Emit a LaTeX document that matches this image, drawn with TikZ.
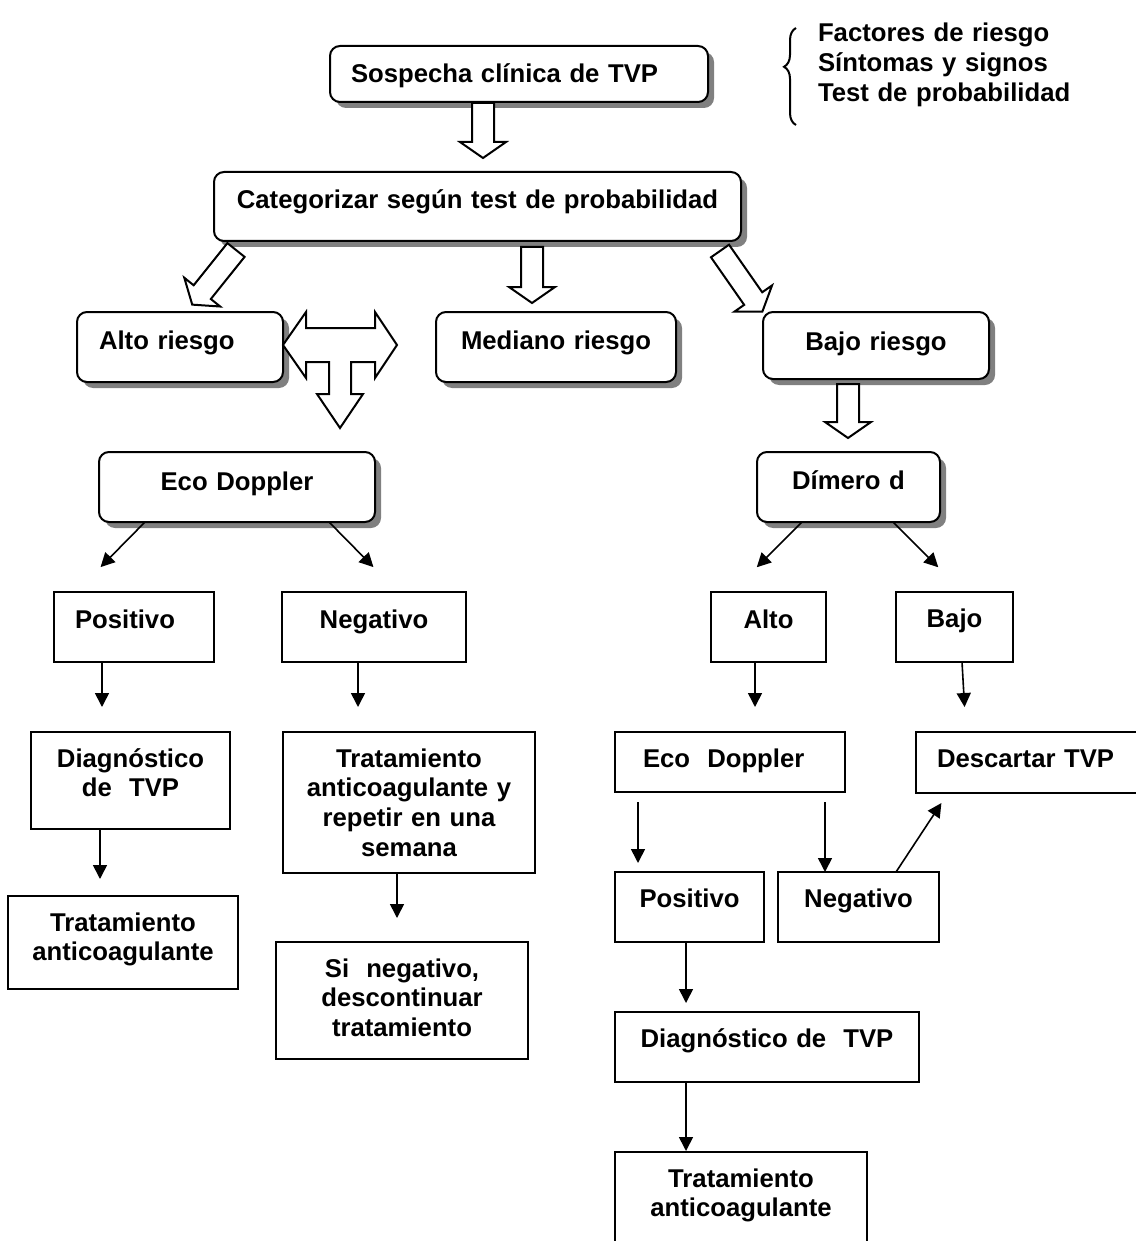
\documentclass[tikz,border=0pt]{standalone}
\usepackage{fontspec}
\setmainfont{Liberation Sans}
\usetikzlibrary{arrows.meta,shadows,decorations.pathreplacing}
\newcommand{\boxfont}{\fontsize{25.7}{29.7}\selectfont\bfseries}
% hollow block arrow: tail point, angle, length
\newcommand{\blockarrow}[3]{%
  \draw[hollow,shift={#1},rotate=#2] (0,-11) -- ({#3-16},-11) -- ({#3-16},-23)
    -- (#3,0) -- ({#3-16},23) -- ({#3-16},11) -- (0,11) -- cycle;}

\begin{document}
\begin{tikzpicture}[x=1pt,y=-1pt,
 box/.style={draw,line width=2pt,anchor=north west,align=center,fill=white,
  inner xsep=0pt,inner ysep=0pt,outer sep=0pt,font=\boxfont},
 rbox/.style={box,rounded corners=10pt,
  drop shadow={shadow xshift=6pt,shadow yshift=-6pt,fill=black!50,opacity=1}},
 hollow/.style={draw,fill=white,line width=2pt,line join=miter},
 arr/.style={-{Triangle[length=14pt,width=14pt]},line width=1.6pt}]
\useasboundingbox (0,0) rectangle (1135,1241);

% top
\node[rbox,align=left,inner xsep=21pt,text width=336pt,text height=37pt,text depth=19pt]
 (sospecha) at (330,46) {Sospecha clínica de TVP};
\node[box,draw=none,fill=none,align=left,text width=300pt,text height=18pt,text depth=2pt]
 (factores) at (818,24) {Factores de riesgo\\Síntomas y signos\\Test de probabilidad};
\draw[line width=2pt,decorate,decoration={brace,amplitude=12pt,aspect=0.6}]
 (796,125) -- (796,28);
\node[rbox,text width=527pt,text height=37pt,text depth=32pt]
 (categ) at (214,172) {Categorizar según test de probabilidad};

% risk groups
\node[rbox,align=left,inner xsep=22pt,text width=162pt,text height=37pt,text depth=33pt]
 (altor) at (77,312) {Alto riesgo};
\node[rbox,text width=240pt,text height=37pt,text depth=33pt]
 (medr) at (436,312) {Mediano riesgo};
\node[rbox,text width=226pt,text height=38pt,text depth=29pt]
 (bajor) at (763,312) {Bajo riesgo};
\node[rbox,text width=276pt,text height=38pt,text depth=32pt]
 (ecoA) at (99,452) {Eco Doppler};
\node[rbox,text width=183pt,text height=37pt,text depth=33pt]
 (dimero) at (757,452) {Dímero d};

% left branch
\node[box,align=left,inner xsep=21pt,text width=118pt,text height=36pt,text depth=34pt]
 (posA) at (54,592) {Positivo};
\node[box,text width=184pt,text height=36pt,text depth=34pt]
 (negA) at (282,592) {Negativo};
\node[box,text width=199pt,text height=35pt,text depth=62pt]
 (diagA) at (31,732) {Diagnóstico\\de~~TVP};
\node[box,text width=252pt,text height=35pt,text depth=106pt]
 (tratB) at (283,732) {Tratamiento\\anticoagulante y\\repetir en una\\semana};
\node[box,text width=230pt,text height=35pt,text depth=58pt]
 (tratA) at (8,896) {Tratamiento\\anticoagulante};
\node[box,text width=252pt,text height=35pt,text depth=82pt]
 (siNeg) at (276,942) {Si~~negativo,\\descontinuar\\tratamiento};

% right branch
\node[box,text width=115pt,text height=36pt,text depth=34pt]
 (alto) at (711,592) {Alto};
\node[box,text width=117pt,text height=35pt,text depth=35pt]
 (bajo) at (896,592) {Bajo};
\node[box,align=left,inner xsep=28pt,text width=174pt,text height=35pt,text depth=25pt]
 (ecoB) at (615,732) {Eco~~Doppler};
\node[box,align=left,inner xsep=21pt,text width=198pt,text height=35pt,text depth=26pt]
 (descartar) at (916,732) {Descartar TVP};
\node[box,text width=149pt,text height=35pt,text depth=35pt]
 (posB) at (615,872) {Positivo};
\node[box,text width=161pt,text height=35pt,text depth=35pt]
 (negB) at (778,872) {Negativo};
\node[box,text width=304pt,text height=35pt,text depth=35pt]
 (diagB) at (615,1012) {Diagnóstico de~~TVP};
\node[box,text width=252pt,text height=35pt,text depth=80pt]
 (tratC) at (615,1152) {Tratamiento\\anticoagulante};

% block arrows
\blockarrow{(483,103)}{-90}{55}
\blockarrow{(236,250)}{-128.7}{70}
\blockarrow{(532,247)}{-90}{56}
\blockarrow{(720,251)}{-55.1}{74}
\blockarrow{(848,384)}{-90}{54}
\draw[hollow] (283,345) -- (306,312) -- (306,328) -- (375,328) -- (375,312)
 -- (397,345) -- (375,378) -- (375,362) -- (351,362) -- (351,394) -- (363,394)
 -- (340,428) -- (317,394) -- (329,394) -- (329,362) -- (306,362) -- (306,378) -- cycle;

% thin arrows
\draw[arr,shorten >=35pt] ([xshift=46pt]ecoA.south west) -- ([xshift=22pt]posA.north west);
\draw[arr,shorten >=35pt] ([xshift=230pt]ecoA.south west) -- ([xshift=116pt]negA.north west);
\draw[arr,shorten >=35pt] ([xshift=45pt]dimero.south west) -- ([xshift=21pt]alto.north west);
\draw[arr,shorten >=35pt] ([xshift=136pt]dimero.south west) -- ([xshift=67pt]bajo.north west);
\draw[arr,shorten >=25pt] ([xshift=48pt]posA.south west) -- ([xshift=71pt]diagA.north west);
\draw[arr,shorten >=25pt] ([xshift=76pt]negA.south west) -- ([xshift=75pt]tratB.north west);
\draw[arr,shorten >=17pt] ([xshift=69pt]diagA.south west) -- ([xshift=92pt]tratA.north west);
\draw[arr,shorten >=24pt] ([xshift=114pt]tratB.south west) -- ([xshift=121pt]siNeg.north west);
\draw[arr,shorten >=25pt] ([xshift=44pt]alto.south west) -- ([xshift=140pt]ecoB.north west);
\draw[arr,shorten >=25pt] ([xshift=66pt]bajo.south west) -- ([xshift=50pt]descartar.north west);
\draw[arr,shorten <=10pt,shorten >=9pt] ([xshift=23pt]ecoB.south west) -- ([xshift=23pt]posB.north west);
\draw[arr,shorten <=10pt] ([xshift=210pt]ecoB.south west) -- ([xshift=47pt]negB.north west);
\draw[arr,shorten >=12pt] ([xshift=118pt]negB.north west) -- ([xshift=32pt]descartar.south west);
\draw[arr,shorten >=9pt] ([xshift=71pt]posB.south west) -- ([xshift=71pt]diagB.north west);
\draw[arr,shorten >=1pt] ([xshift=71pt]diagB.south west) -- ([xshift=71pt]tratC.north west);
\end{tikzpicture}
\end{document}
